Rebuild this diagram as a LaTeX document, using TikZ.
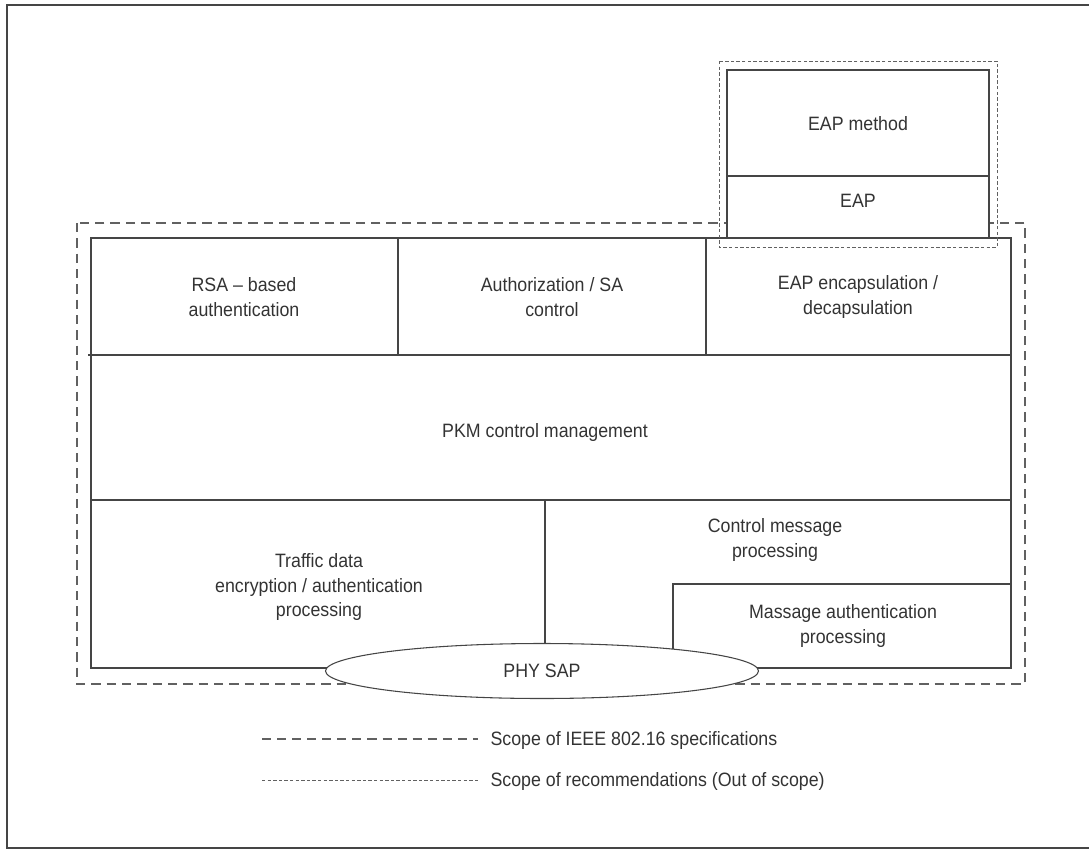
\documentclass[tikz,border=0pt]{standalone}
\usepackage{fontspec}
\setmainfont[FakeStretch=0.92]{Liberation Sans}
\usetikzlibrary{shapes.geometric}
\definecolor{ink}{HTML}{454545}
\definecolor{txt}{HTML}{333333}
\begin{document}
\begin{tikzpicture}[x=0.75pt,y=-0.75pt,
  line width=0.8pt, draw=ink,
  cell/.style={draw=ink, line width=0.8pt},
  lbl/.style={text=txt, font=\fontsize{14.5}{18.4}\selectfont, align=center, inner sep=0pt},
  ieee/.style={draw=ink!85, line width=0.8pt, dash pattern=on 7pt off 4.5pt},
  recm/.style={draw=ink!85, line width=0.7pt, dash pattern=on 2.6pt off 1.6pt}]
\useasboundingbox (0,0) rectangle (1089,850);
% outer frame
\draw[ink, line width=1pt] (1089,5) -- (7,5) -- (7,848) -- (1089,848);

% scope of IEEE 802.16
\draw[ieee] (77,223) rectangle (1025,684);

% main stack
\draw[cell] (91,238) rectangle (1011,668);
\draw[cell] (88,355) -- (1011,355);
\draw[cell] (91,500) -- (1011,500);
\draw[cell] (398,238) -- (398,355);
\draw[cell] (706,238) -- (706,355);
\draw[cell] (673,668) |- (1011,584);

% EAP stack
\draw[cell, fill=white] (727,70) rectangle (989,238);
\draw[cell] (727,176) -- (989,176);
\draw[recm] (719,61) rectangle (997,247);

% labels
\node[lbl] (rsa)  at (244,297) {RSA – based\\authentication};
\node[lbl] (auth) at (552,297) {Authorization / SA\\control};
\node[lbl] (enc)  at (858,297) {EAP encapsulation /\\decapsulation};
\node[lbl] (pkm)  at (545,432) {PKM control management};
\node[lbl] (tde)  at (319,587) {Traffic data\\encryption / authentication\\processing};
\node[lbl] (cmp)  at (775,540) {Control message\\processing};
\node[lbl] (mac)  at (843,626) {Massage authentication\\processing};
\node[lbl] (meth) at (858,124) {EAP method};
\node[lbl] (eap)  at (858,201) {EAP};

% PHY SAP
\node[ellipse, draw=ink, line width=0.8pt, fill=white, inner sep=0pt,
      minimum width=433*0.75pt, minimum height=55*0.75pt, text=txt,
      font=\fontsize{14.5}{18.4}\selectfont] (phy) at (542,671) {PHY SAP};
\draw[cell] (545,500) -- (phy.north -| 545,0);

% legend
\coordinate (l1a) at (262,739);
\coordinate (l1b) at (478,739);
\coordinate (l2a) at (262,780);
\coordinate (l2b) at (478,780);
\draw[ieee, dash pattern=on 6.8pt off 4.5pt] (l1a) -- (l1b);
\draw[recm] (l2a) -- (l2b);
\node[lbl, anchor=west] (lg1) at (490,740) {Scope of IEEE 802.16 specifications};
\node[lbl, anchor=west] (lg2) at (490,781) {Scope of recommendations (Out of scope)};
\end{tikzpicture}
\end{document}
